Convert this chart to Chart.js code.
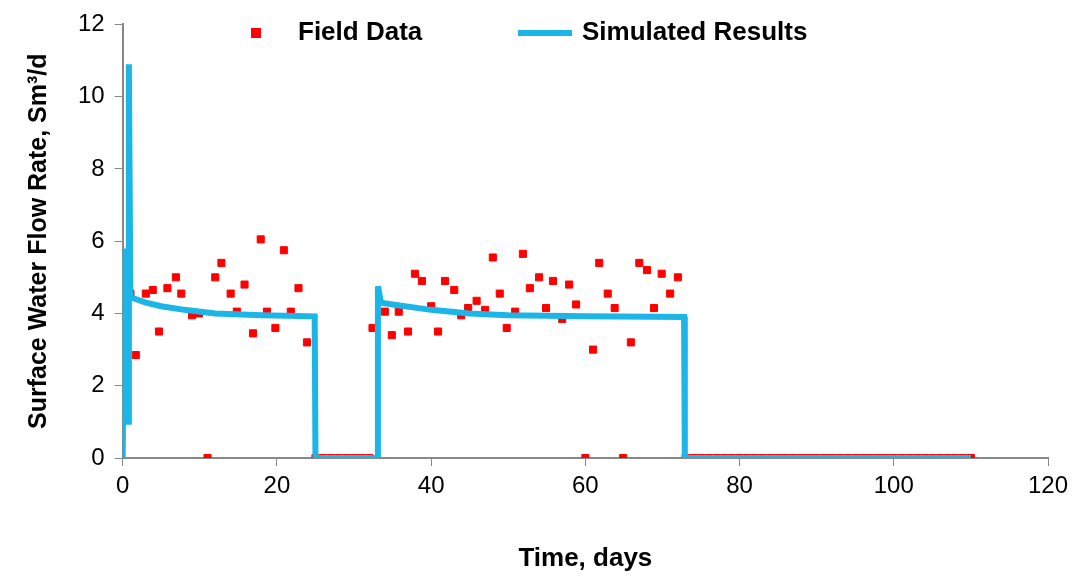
<!DOCTYPE html>
<html><head><meta charset="utf-8">
<script src="https://cdn.jsdelivr.net/npm/chart.js@4"></script>
<style>html,body{margin:0;background:#fff}</style>
</head><body><canvas id="c" width="1076" height="580"></canvas>
<script>
const fieldT=[1,1.7,3,3.9,4.7,5.8,6.9,7.6,9,9.9,11,12,12.8,14,14.8,15.8,16.9,17.9,18.7,19.8,20.9,21.8,22.8,23.9,
25,26,27,28,29,30,31,32,
32.4,34,34.9,35.8,37,37.9,38.8,40,40.9,41.8,43,43.9,44.8,45.9,47,48,48.9,49.8,50.9,51.9,52.8,54,54.9,55.8,57,57.9,58.8,60,61,61.8,62.9,63.8,64.9,65.9,67,68,68.9,69.9,71,72,
73,74,75,76,77,78,79,80,81,82,83,84,85,86,87,88,89,90,91,92,93,94,95,96,97,98,99,100,101,102,103,104,105,106,107,108,109,110];
const fieldV=[4.55,2.85,4.55,4.65,3.5,4.7,5.0,4.55,3.95,4.0,0,5.0,5.4,4.55,4.05,4.8,3.45,6.05,4.05,3.6,5.75,4.05,4.7,3.2,
0,0,0,0,0,0,0,0,
3.6,4.05,3.4,4.05,3.5,5.1,4.9,4.2,3.5,4.9,4.65,3.95,4.15,4.35,4.1,5.55,4.55,3.6,4.05,5.65,4.7,5.0,4.15,4.9,3.85,4.8,4.25,0,3.0,5.4,4.55,4.15,0,3.2,5.4,5.2,4.15,5.1,4.55,5.0,
0,0,0,0,0,0,0,0,0,0,0,0,0,0,0,0,0,0,0,0,0,0,0,0,0,0,0,0,0,0,0,0,0,0,0,0,0,0];
const simT=[0,0.2,0.4,0.7,0.8,1.0,3,5,8,12,18,24.9,25,33,33.1,33.5,35,40,45,50,60,72.8,72.9,110];
const simV=[0,5.8,1.0,1.0,10.9,4.45,4.3,4.2,4.1,4.0,3.95,3.92,0,0,4.75,4.3,4.25,4.1,4.0,3.95,3.92,3.9,0,0];
const xTicks=[0,20,40,60,80,100,120];
const F="'Liberation Sans', Arial, sans-serif";
const legendPlugin={id:'lg',afterDraw(ch){const g=ch.ctx;g.save();
 g.fillStyle='#ff0000';g.fillRect(251,28,10,10);
 g.fillStyle='#000';g.font="bold 26px "+F;g.textBaseline='middle';g.fillText('Field Data',298,33);
 g.fillStyle='#1cb5e8';g.fillRect(518,30,54,6);
 g.fillStyle='#000';g.fillText('Simulated Results',582,33);g.restore();}};
new Chart(document.getElementById('c'),{
 type:'scatter',
 data:{datasets:[
  {label:'Field Data',data:fieldT.map((t,i)=>({x:t,y:fieldV[i]})),pointStyle:'rect',pointRadius:5,backgroundColor:'#ff0000',borderColor:'#ff0000',order:2},
  {label:'Simulated Results',type:'line',data:simT.map((t,i)=>({x:t,y:simV[i]})),borderColor:'#1cb5e8',backgroundColor:'#1cb5e8',borderWidth:6,pointRadius:0,tension:0,order:1}
 ]},
 plugins:[legendPlugin],
 options:{responsive:false,animation:false,
  layout:{padding:{top:0,right:28,left:20,bottom:2}},
  plugins:{legend:{display:false},tooltip:{enabled:false}},
  scales:{
   x:{type:'linear',min:0,max:120,afterBuildTicks:a=>{a.ticks=xTicks.map(v=>({value:v}))},
     grid:{drawOnChartArea:false,drawTicks:true,tickLength:8,color:'#888'},border:{color:'#888',width:2},
     ticks:{font:{family:F,size:24},color:'#000',padding:6},
     title:{display:true,text:'Time, days',font:{family:F,size:26,weight:'bold'},color:'#000',padding:{top:36}}},
   y:{min:0,max:12,ticks:{stepSize:2,font:{family:F,size:24},color:'#000',padding:10},
     grid:{drawOnChartArea:false,drawTicks:true,tickLength:8,color:'#888'},border:{color:'#888',width:2},
     title:{display:true,text:'Surface Water Flow Rate, Sm³/d',font:{family:F,size:25,weight:'bold'},color:'#000',padding:{bottom:14}}}
  }}
});
</script></body></html>
